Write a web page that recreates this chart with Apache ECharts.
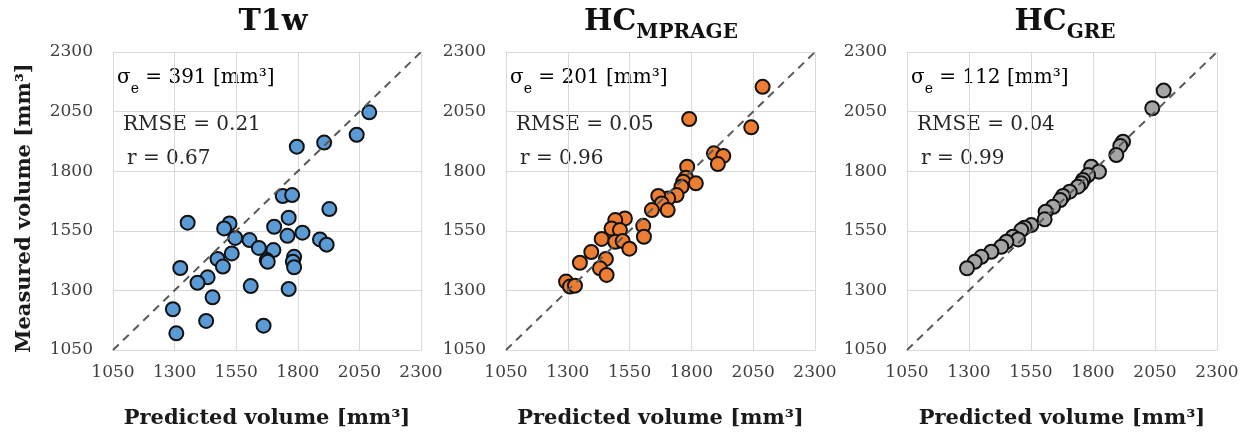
<!DOCTYPE html>
<html>
<head>
<meta charset="utf-8">
<script src="https://cdn.jsdelivr.net/npm/echarts@6/dist/echarts.min.js"></script>
<style>
  html, body { margin: 0; padding: 0; background: #fff; }
  #main { width: 1249px; height: 438px; }
</style>
</head>
<body>
<div id="main"></div>
<script>
// axis ticks (same for every panel)
var axisMin = 1050, axisMax = 2300, axisStep = 250;

// T1w
var t1wPredicted = [2090, 2039, 1907, 1796, 1739, 1777, 1928, 1763, 1353, 1523, 1501, 1704, 1546, 1604, 1758, 1819, 1890, 1917, 1642, 1701, 1532, 1474, 1496, 1674, 1678, 1785, 1780, 1785, 1323, 1434, 1393, 1454, 1609, 1763, 1293, 1428, 1661, 1307];
var t1wMeasured  = [2047, 1953, 1920, 1903, 1696, 1700, 1641, 1605, 1584, 1581, 1560, 1567, 1520, 1511, 1529, 1542, 1514, 1492, 1478, 1469, 1455, 1432, 1400, 1427, 1420, 1441, 1420, 1397, 1394, 1355, 1332, 1271, 1318, 1306, 1221, 1172, 1152, 1120];

// HC MPRAGE
var mprPredicted = [2088, 1791, 2042, 1891, 1929, 1907, 1783, 1778, 1767, 1818, 1760, 1740, 1706, 1666, 1680, 1704, 1640, 1531, 1492, 1605, 1608, 1477, 1511, 1437, 1492, 1522, 1549, 1395, 1454, 1349, 1430, 1457, 1293, 1309, 1329];
var mprMeasured  = [2154, 2019, 1984, 1875, 1864, 1830, 1819, 1773, 1756, 1749, 1735, 1700, 1686, 1696, 1665, 1637, 1637, 1602, 1595, 1571, 1525, 1560, 1553, 1516, 1504, 1507, 1475, 1461, 1432, 1416, 1393, 1365, 1337, 1316, 1320];

// HC GRE
var grePredicted = [2085, 2039, 1921, 1910, 1894, 1793, 1824, 1780, 1760, 1753, 1739, 1706, 1679, 1668, 1639, 1609, 1605, 1551, 1524, 1511, 1477, 1498, 1451, 1430, 1390, 1350, 1323, 1292];
var greMeasured  = [2138, 2064, 1924, 1906, 1868, 1819, 1798, 1784, 1763, 1749, 1735, 1714, 1696, 1679, 1651, 1630, 1598, 1574, 1563, 1553, 1525, 1514, 1504, 1483, 1462, 1441, 1420, 1393];

var panelStats = [
  { sigma: '391', rmse: '0.21', r: '0.67' },
  { sigma: '201', rmse: '0.05', r: '0.96' },
  { sigma: '112', rmse: '0.04', r: '0.99' }
];
var identityLine = [[axisMin, axisMin], [axisMax, axisMax]];

function pairs(xs, ys) {
  return xs.map(function (x, i) { return [x, ys[i]]; });
}

var chart = echarts.init(document.getElementById('main'), null, { renderer: 'canvas' });

var serifFont = '"DejaVu Serif", "Liberation Serif", serif';
var gridColor = '#d9d9d9';
var gridBoxes = [
  { left: 113, top: 52, width: 308, height: 298 },
  { left: 506, top: 52, width: 309, height: 298 },
  { left: 907, top: 52, width: 310, height: 298 }
];
var colors = ['#5b9bd5', '#ed7d31', '#a5a5a5'];
var allData = [pairs(t1wPredicted, t1wMeasured), pairs(mprPredicted, mprMeasured), pairs(grePredicted, greMeasured)];

function makeAxis(i, isY) {
  return {
    type: 'value',
    gridIndex: i,
    min: axisMin,
    max: axisMax,
    interval: axisStep,
    axisLine: { show: true, lineStyle: { color: gridColor, width: 1 } },
    axisTick: { show: false },
    splitLine: { show: true, lineStyle: { color: gridColor, width: 1 } },
    axisLabel: {
      color: '#404040',
      fontFamily: serifFont,
      fontSize: 17,
      margin: isY ? 20 : 14,
      formatter: function (v) { return String(v); }
    },
    name: isY ? (i === 0 ? 'Measured volume [mm³]' : '') : 'Predicted volume [mm³]',
    nameLocation: 'middle',
    nameGap: isY ? 78 : 58,
    nameTextStyle: {
      color: '#1a1a1a',
      fontFamily: serifFont,
      fontWeight: 'bold',
      fontSize: 21,
      padding: isY ? [0, 14, 0, 0] : 0
    }
  };
}

var titleRich = {
  main: { fontFamily: serifFont, fontWeight: 'bold', fontSize: 30, color: '#111', lineHeight: 36, verticalAlign: 'top' },
  sub: { fontFamily: serifFont, fontWeight: 'bold', fontSize: 20, color: '#111', lineHeight: 14, verticalAlign: 'bottom' }
};
var statRich = {
  t: { fontFamily: serifFont, fontSize: 20, color: '#262626', lineHeight: 28, verticalAlign: 'top' },
  s: { fontFamily: serifFont, fontSize: 14, color: '#262626', lineHeight: 18, verticalAlign: 'bottom' }
};

var titles = [
  { text: '{main|T1w}', left: 268 },
  { text: '{main|HC}{sub|MPRAGE}', left: 656 },
  { text: '{main|HC}{sub|GRE}', left: 1060 }
].map(function (t) {
  return { text: t.text, left: t.left, top: 2, textAlign: 'center', textStyle: { rich: titleRich } };
});

var graphics = [];
gridBoxes.forEach(function (g, i) {
  var st = panelStats[i];
  graphics.push({
    type: 'text', left: g.left + 4, top: g.top + 16,
    style: { text: '{t|σ}{s|e}{t| = ' + st.sigma + ' [mm³]}', rich: statRich }
  });
  graphics.push({
    type: 'text', left: g.left + 10, top: g.top + 63,
    style: { text: 'RMSE = ' + st.rmse, font: '20px ' + serifFont, fill: '#262626' }
  });
  graphics.push({
    type: 'text', left: g.left + 14, top: g.top + 97,
    style: { text: 'r = ' + st.r, font: '20px ' + serifFont, fill: '#262626' }
  });
});

var series = [];
allData.forEach(function (d, i) {
  series.push({
    type: 'scatter',
    xAxisIndex: i,
    yAxisIndex: i,
    data: d,
    symbol: 'circle',
    symbolSize: 14,
    itemStyle: { color: colors[i], borderColor: '#111', borderWidth: 2, opacity: 1 },
    z: 2
  });
  series.push({
    type: 'line',
    xAxisIndex: i,
    yAxisIndex: i,
    data: identityLine,
    symbol: 'none',
    silent: true,
    lineStyle: { color: '#595959', width: 2, type: [8, 6] },
    z: 3
  });
});

var option = {
  animation: false,
  backgroundColor: '#fff',
  title: titles,
  grid: gridBoxes.map(function (g) {
    return { left: g.left, top: g.top, width: g.width, height: g.height, containLabel: false, show: false };
  }),
  xAxis: [0, 1, 2].map(function (i) { return makeAxis(i, false); }),
  yAxis: [0, 1, 2].map(function (i) { return makeAxis(i, true); }),
  graphic: graphics,
  series: series
};

chart.setOption(option);
</script>
</body>
</html>
